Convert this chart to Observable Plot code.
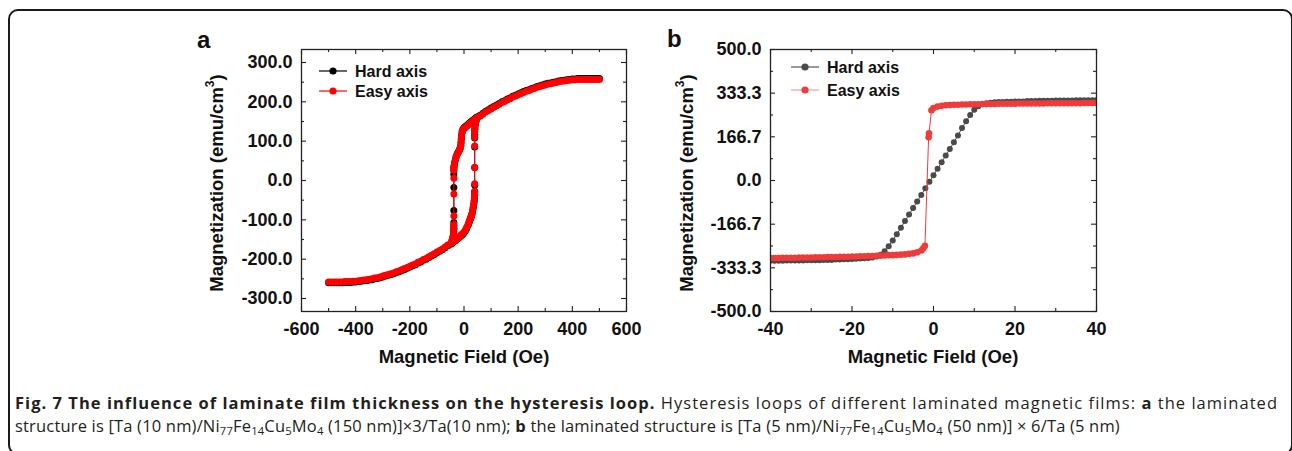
<!DOCTYPE html>
<html><head><meta charset="utf-8">
<script src="https://cdn.jsdelivr.net/npm/d3@7"></script>
<script src="https://cdn.jsdelivr.net/npm/@observablehq/plot@0.6"></script>
<style>
body{margin:0;background:#fff;}
#root{position:relative;width:1292px;height:451px;overflow:hidden;background:#fff;}
.abs{position:absolute;}
#border{position:absolute;left:8px;top:9px;width:1281px;height:442px;border:2px solid #1a1a1a;border-radius:10px;}
.cap{position:absolute;left:15px;font-family:"Open Sans",sans-serif;font-size:16.5px;color:#231f20;white-space:nowrap;line-height:22px;}
.cap b{font-weight:700;}
.cap sub{font-size:0.68em;vertical-align:-0.28em;line-height:0;}
</style></head><body>
<div id="root">
<div id="border"></div>
<div id="pa" class="abs" style="left:190px;top:30px"></div>
<div id="pb" class="abs" style="left:660px;top:30px"></div>
<svg id="ov" class="abs" style="left:0;top:0" width="1292" height="451"></svg>
<div id="cap1" class="cap" style="top:392px"><b>Fig. 7 The influence of laminate film thickness on the hysteresis loop.</b> Hysteresis loops of different laminated magnetic films: <b>a</b> the laminated</div>
<div id="cap2" class="cap" style="top:415px">structure is [Ta (10 nm)/Ni<sub>77</sub>Fe<sub>14</sub>Cu<sub>5</sub>Mo<sub>4</sub> (150 nm)]×3/Ta(10 nm); <b>b</b> the laminated structure is [Ta (5 nm)/Ni<sub>77</sub>Fe<sub>14</sub>Cu<sub>5</sub>Mo<sub>4</sub> (50 nm)] × 6/Ta (5 nm)</div>
</div>
<script>
// ---------- Panel a data ----------
const fieldArcUpperA = [50,60,70,80,90,100,110,120,130,140,150,160,170,180,190,200,210,220,230,240,250,260,270,280,290,300,310,320,330,340,350,360,370,380,390,400,410,420,430,440,450,460,470,480,490,500];
const hardArcUpperA = [162,166,171,176,180,184,188,192,196,200,203,207,210,214,217,220,223,226,229,231,234,236,239,241,243,245,247,248,250,251,253,254,255,256,257,258,258,259,259,259,259,259,259,259,259,259];
const easyArcUpperA = [160,164,169,174,178,182,186,190,194,198,201,205,208,212,215,218,221,224,227,229,232,234,237,239,241,243,245,246,248,249,251,252,253,254,255,256,256,257,257,257,257,257,257,257,257,257];
const fieldArcLowerA = [-500,-490,-480,-470,-460,-450,-440,-430,-420,-410,-400,-390,-380,-370,-360,-350,-340,-330,-320,-310,-300,-290,-280,-270,-260,-250,-240,-230,-220,-210,-200,-190,-180,-170,-160,-150,-140,-130,-120,-110,-100,-90,-80,-70,-60,-50];
const hardArcLowerA = [-260,-260,-260,-260,-260,-260,-259,-259,-259,-258,-258,-257,-256,-255,-254,-253,-252,-250,-249,-247,-245,-243,-241,-239,-237,-234,-232,-229,-226,-223,-220,-217,-214,-210,-207,-203,-200,-196,-192,-188,-184,-180,-176,-171,-166,-162];
const easyArcLowerA = [-258,-258,-258,-258,-258,-258,-257,-257,-257,-256,-256,-255,-254,-253,-252,-251,-250,-248,-247,-245,-243,-241,-239,-237,-235,-232,-230,-227,-224,-221,-218,-215,-212,-208,-205,-201,-198,-194,-190,-186,-182,-178,-174,-169,-164,-160];
const fieldDescA = [45,40,35,30,25,20,15,10,5,0,-4,-7,-9,-10,-11,-12,-14,-17,-21,-25,-29,-32,-35,-36.5,-37.5,-37.5,-37.5,-37.5,-37.5,-37.5,-37.5,-37.5,-38,-38.5,-40,-42,-45];
const hardDescA = [160,157,154,152,149,146,143,140,137,134,130,124,115,106,97,89,83,78,73,68,61,53,45,37,32,26,16,-18,-76,-107,-115,-122,-130,-136,-142,-148,-154];
const easyDescA = [158,155,152,150,147,144,141,138,135,132,128,122,114,105,96,88,82,77,72,67,60,52,44,36,32,26,6,-34,-90,-112,-118,-124,-130,-136,-142,-148,-154];
const fieldAscA = [-45,-40,-35,-30,-25,-20,-15,-10,-5,0,5,10,15,18,21,24,26,28,30,32,34,36,37.5,38.5,39.5,39.5,39.5,39.5,39.5,39.5,39.5,39.5,40,40.5,42,44,47];
const hardAscA = [-160,-157,-154,-152,-149,-146,-143,-140,-137,-133,-128,-121,-114,-108,-102,-97,-93,-89,-84,-77,-69,-61,-53,-45,-36,-28,-12,33,85,108,116,124,131,138,145,151,157];
const easyAscA = [-158,-155,-152,-150,-147,-144,-141,-138,-135,-131,-126,-119,-112,-106,-100,-95,-92,-88,-83,-76,-68,-60,-52,-44,-36,-28,-8,33,88,110,117,124,131,138,145,150,155];
const xTicksA = [-600,-400,-200,0,200,400,600];
const xTickLabelsA = ["-600","-400","-200","0","200","400","600"];
const xMinorA = [-500,-300,-100,100,300,500];
const yTicksA = [-300,-200,-100,0,100,200,300];
const yTickLabelsA = ["-300.0","-200.0","-100.0","0.0","100.0","200.0","300.0"];
const yMinorA = [-250,-150,-50,50,150,250];

// ---------- Panel b data ----------
const fieldHardB = [-40,-39,-38,-37,-36,-35,-34,-33,-32,-31,-30,-29,-28,-27,-26,-25,-24,-23,-22,-21,-20,-19,-18,-17,-16,-15,-14,-13,-12,-11,-10,-9,-8,-7,-6,-5,-4,-3,-2,-1,0,1,2,3,4,5,6,7,8,9,10,11,12,13,14,15,16,17,18,19,20,21,22,23,24,25,26,27,28,29,30,31,32,33,34,35,36,37,38,39,40];
const hardB = [-306,-306,-306,-306,-305,-305,-305,-305,-305,-304,-304,-304,-304,-303,-303,-303,-302,-302,-301,-301,-300,-299,-298,-297,-296,-294,-290,-283,-270,-251,-229,-205,-180,-155,-130,-105,-80,-55,-30,-5,20,45,70,95,120,146,172,200,226,250,270,283,291,295,297,299,300,300,301,301,302,302,302,303,303,303,304,304,304,304,305,305,305,305,305,306,306,306,306,306,306];
const fieldEasyB = [-40,-39,-38,-37,-36,-35,-34,-33,-32,-31,-30,-29,-28,-27,-26,-25,-24,-23,-22,-21,-20,-19,-18,-17,-16,-15,-14,-13,-12,-11,-10,-9,-8,-7,-6,-5,-4,-3,-2.5,-2.1,-1.2,-1.1,-0.5,0,1,2,3,4,5,6,7,8,9,10,11,12,13,14,15,16,17,18,19,20,21,22,23,24,25,26,27,28,29,30,31,32,33,34,35,36,37,38,39,40];
const easyB = [-296,-296,-296,-295,-295,-295,-295,-294,-294,-294,-294,-293,-293,-293,-292,-292,-292,-291,-291,-291,-290,-290,-289,-289,-288,-288,-287,-287,-286,-285,-285,-284,-283,-282,-280,-278,-274,-267,-259,-249,165,180,268,277,282,285,287,288,289,289,290,290,291,291,291,292,292,292,292,293,293,293,293,293,294,294,294,294,294,294,294,295,295,295,295,295,295,295,295,295,296,296,296,296];
const xTicksB = [-40,-20,0,20,40];
const xTickLabelsB = ["-40","-20","0","20","40"];
const xMinorB = [-30,-10,10,30];
const yTicksB = [-500,-333.3,-166.7,0,166.7,333.3,500];
const yTickLabelsB = ["-500.0","-333.3","-166.7","0.0","166.7","333.3","500.0"];
const yMinorB = [-416.7,-250,-83.3,83.3,250,416.7];

const seriesNames = ["Hard axis","Easy axis"];

const rows = (H, M) => H.map((h, i) => ({h, m: M[i]}));
const FONT = "'Liberation Sans', Arial, Helvetica, sans-serif";

function panel(o) {
  const W = o.width - o.ml - o.mr, Hh = o.height - o.mt - o.mb;
  const xl = new Map(o.xTicks.map((v, i) => [v, o.xLabels[i]]));
  const yl = new Map(o.yTicks.map((v, i) => [v, o.yLabels[i]]));
  const marks = [];
  for (const s of o.series) {
    for (const seg of s.segments) {
      marks.push(Plot.line(seg, {x: "h", y: "m", stroke: s.line, strokeWidth: 1, clip: true}));
      marks.push(Plot.dot(seg, {x: "h", y: "m", r: s.r, fill: s.color, stroke: "none", clip: true}));
    }
  }
  const ts = {stroke: "#222", strokeWidth: 1.1};
  const maj = 5, mnr = 3;
  marks.push(Plot.tickY(o.yTicks, {y: d => d, insetRight: W - maj, ...ts}));
  marks.push(Plot.tickY(o.yTicks, {y: d => d, insetLeft: W - maj, ...ts}));
  marks.push(Plot.tickY(o.yMinor, {y: d => d, insetRight: W - mnr, ...ts}));
  marks.push(Plot.tickY(o.yMinor, {y: d => d, insetLeft: W - mnr, ...ts}));
  marks.push(Plot.tickX(o.xTicks, {x: d => d, insetTop: Hh - maj, ...ts}));
  marks.push(Plot.tickX(o.xTicks, {x: d => d, insetBottom: Hh - maj, ...ts}));
  marks.push(Plot.tickX(o.xMinor, {x: d => d, insetTop: Hh - mnr, ...ts}));
  marks.push(Plot.tickX(o.xMinor, {x: d => d, insetBottom: Hh - mnr, ...ts}));
  marks.push(Plot.frame({stroke: "#222", strokeWidth: 1.3}));
  marks.push(Plot.axisX(o.xTicks, {anchor: "bottom", tickSize: 0, tickPadding: 11, tickFormat: d => xl.get(d), label: null, fontSize: 18, fontWeight: "bold", fill: "#111"}));
  marks.push(Plot.axisY(o.yTicks, {anchor: "left", tickSize: 0, tickPadding: 9, tickFormat: d => yl.get(d), label: null, fontSize: 18, fontWeight: "bold", fill: "#111"}));
  return Plot.plot({
    width: o.width, height: o.height,
    marginLeft: o.ml, marginRight: o.mr, marginTop: o.mt, marginBottom: o.mb,
    x: {domain: o.xDomain}, y: {domain: o.yDomain},
    style: {fontFamily: FONT, background: "transparent", overflow: "visible"},
    marks
  });
}

const chartA = panel({
  width: 450, height: 330, ml: 111, mr: 14, mt: 19, mb: 49,
  xDomain: [-600, 600], yDomain: [-333, 333],
  xTicks: xTicksA, xLabels: xTickLabelsA, xMinor: xMinorA,
  yTicks: yTicksA, yLabels: yTickLabelsA, yMinor: yMinorA,
  series: [
    {color: "#000000", line: "#000000", r: 3.5, segments: [rows(fieldArcUpperA, hardArcUpperA), rows(fieldArcLowerA, hardArcLowerA), rows(fieldDescA, hardDescA), rows(fieldAscA, hardAscA)]},
    {color: "#ff0000", line: "#ff0000", r: 3.5, segments: [rows(fieldArcUpperA, easyArcUpperA), rows(fieldArcLowerA, easyArcLowerA), rows(fieldDescA, easyDescA), rows(fieldAscA, easyAscA)]}
  ]
});
document.getElementById("pa").appendChild(chartA);

const chartB = panel({
  width: 450, height: 330, ml: 110, mr: 14, mt: 19, mb: 49,
  xDomain: [-40, 40], yDomain: [-500, 500],
  xTicks: xTicksB, xLabels: xTickLabelsB, xMinor: xMinorB,
  yTicks: yTicksB, yLabels: yTickLabelsB, yMinor: yMinorB,
  series: [
    {color: "#4a4a4a", line: "#4a4a4a", r: 3, segments: [rows(fieldHardB, hardB)]},
    {color: "#ef3b3b", line: "#ef3b3b", r: 3.3, segments: [rows(fieldEasyB, easyB)]}
  ]
});
document.getElementById("pb").appendChild(chartB);

// ---------- overlay texts (panel letters, axis titles, legends) ----------
const ov = d3.select("#ov");
function tx(x, y, s, size, anchor) {
  return ov.append("text").attr("x", x).attr("y", y).attr("font-family", FONT)
    .attr("font-weight", "bold").attr("font-size", size).attr("fill", "#111")
    .attr("text-anchor", anchor || "start").text(s);
}
tx(197, 48, "a", 24);
tx(667, 47, "b", 24);
function ytitle(cx, cy) {
  const t = ov.append("text").attr("transform", `translate(${cx},${cy}) rotate(-90)`)
    .attr("font-family", FONT).attr("font-weight", "bold").attr("font-size", 18.5)
    .attr("fill", "#111").attr("text-anchor", "middle").attr("dy", "0.36em");
  t.append("tspan").text("Magnetization (emu/cm");
  t.append("tspan").attr("font-size", 12).attr("dy", "-0.7em").text("3");
  t.append("tspan").attr("dy", "0.45em").text(")");
}
ytitle(216, 183);
ytitle(686, 183);
tx(464, 363, "Magnetic Field (Oe)", 18.5, "middle");
tx(933, 363, "Magnetic Field (Oe)", 18.5, "middle");
function legend(x0, ys, lineColors, dotColors) {
  seriesNames.forEach((name, i) => {
    ov.append("line").attr("x1", x0).attr("x2", x0 + 28).attr("y1", ys[i]).attr("y2", ys[i])
      .attr("stroke", lineColors[i]).attr("stroke-width", 1.2);
    ov.append("circle").attr("cx", x0 + 14).attr("cy", ys[i]).attr("r", 3.6).attr("fill", dotColors[i]);
    tx(x0 + 36, ys[i] + 5.7, name, 16);
  });
}
legend(319, [71, 91], ["#000", "#ff0000"], ["#000", "#ff0000"]);
legend(791, [67, 90], ["#555", "#f29a9a"], ["#4a4a4a", "#ef3b3b"]);

// ---------- caption fitting (each line to its width in the reference) ----------
function fit(el, target) {
  const w = el.getBoundingClientRect().width;
  const n = el.textContent.length;
  el.style.letterSpacing = ((target - w) / n) + "px";
}
fit(document.getElementById("cap1"), 1263);
fit(document.getElementById("cap2"), 1105);
</script>
</body></html>
